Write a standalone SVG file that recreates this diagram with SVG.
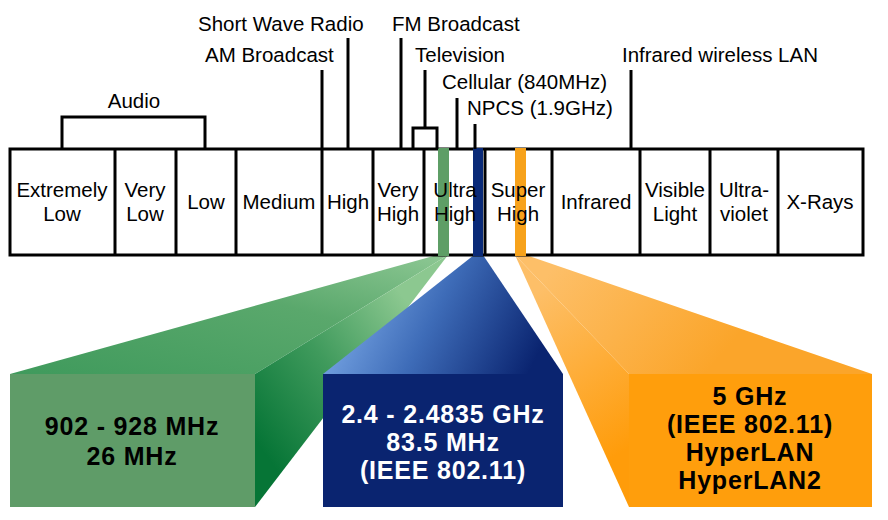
<svg xmlns="http://www.w3.org/2000/svg" width="888" height="520" viewBox="0 0 888 520">
<defs>
<style>
.lbl{font-family:"Liberation Sans",Arial,sans-serif;font-size:20.5px;fill:#000}
.c{text-anchor:middle}
.big{font-family:"Liberation Sans",Arial,sans-serif;font-size:25px;font-weight:bold;text-anchor:middle;letter-spacing:0.8px}
.ln{stroke:#000;stroke-width:3;fill:none}
.cell{fill:#fff;stroke:#000;stroke-width:3}
</style>
<linearGradient id="gTop" x1="0" y1="1" x2="1" y2="0">
<stop offset="0" stop-color="#3f9a5c"/>
<stop offset="0.6" stop-color="#5aa86c"/>
<stop offset="1" stop-color="#8ec894"/>
</linearGradient>
<linearGradient id="gSide" gradientUnits="userSpaceOnUse" x1="255" y1="440" x2="420" y2="320">
<stop offset="0" stop-color="#067536"/>
<stop offset="0.5" stop-color="#3f9a5c"/>
<stop offset="1" stop-color="#8cc890"/>
</linearGradient>
<linearGradient id="bTop" gradientUnits="userSpaceOnUse" x1="340" y1="300" x2="520" y2="390">
<stop offset="0" stop-color="#7aa8e6"/>
<stop offset="0.45" stop-color="#3e6cb8"/>
<stop offset="1" stop-color="#0a2470"/>
</linearGradient>
<linearGradient id="oTop" gradientUnits="userSpaceOnUse" x1="560" y1="260" x2="700" y2="380">
<stop offset="0" stop-color="#fdbf68"/>
<stop offset="1" stop-color="#fba52a"/>
</linearGradient>
<linearGradient id="oSide" gradientUnits="userSpaceOnUse" x1="540" y1="290" x2="640" y2="440">
<stop offset="0" stop-color="#fdbf68"/>
<stop offset="1" stop-color="#ff9c0a"/>
</linearGradient>
</defs>
<rect width="888" height="520" fill="#fff"/>

<g id="band-900">
<polygon points="10,374 437,255 448,255 255,374" fill="url(#gTop)"/>
<polygon points="255,374 448,255 255,507" fill="url(#gSide)"/>
<rect x="10" y="374" width="245" height="133" fill="#5f9c68"/>
<text class="big" x="132" y="435" fill="#000">902 - 928 MHz</text>
<text class="big" x="132" y="465" fill="#000">26 MHz</text>
</g>

<g id="band-2400">
<polygon points="323,374 474,255 483,255 563,374 563,507 323,507" fill="url(#bTop)"/>
<rect x="323" y="374" width="240" height="133" fill="#0a2470"/>
<text class="big" x="443" y="423" fill="#fff">2.4 - 2.4835 GHz</text>
<text class="big" x="443" y="451" fill="#fff">83.5 MHz</text>
<text class="big" x="443" y="479" fill="#fff">(IEEE 802.11)</text>
</g>

<g id="band-5000">
<polygon points="515,255 526,255 872,374 629,374" fill="url(#oTop)"/>
<polygon points="515,255 629,374 629,507" fill="url(#oSide)"/>
<rect x="629" y="374" width="243" height="133" fill="#ff9e0c"/>
<text class="big" x="750" y="405" fill="#000">5 GHz</text>
<text class="big" x="750" y="433" fill="#000">(IEEE 802.11)</text>
<text class="big" x="750" y="461" fill="#000">HyperLAN</text>
<text class="big" x="750" y="489" fill="#000">HyperLAN2</text>
</g>

<g id="spectrum">
<rect class="cell" x="10" y="149" width="853" height="106"/>
<path class="ln" d="M115,149V255M176,149V255M236,149V255M322,149V255M373,149V255M424,149V255M485,149V255M552,149V255M640,149V255M710,149V255M778,149V255"/>
<rect x="438" y="148" width="11" height="108" fill="#5e9e66"/>
<rect x="473" y="148" width="10" height="108" fill="#0a2a78"/>
<rect x="515" y="148" width="11" height="108" fill="#f7a21b"/>
<text class="lbl c" x="62" y="197">Extremely</text><text class="lbl c" x="62" y="221">Low</text>
<text class="lbl c" x="145" y="197">Very</text><text class="lbl c" x="145" y="221">Low</text>
<text class="lbl c" x="206" y="209">Low</text>
<text class="lbl c" x="279" y="209">Medium</text>
<text class="lbl c" x="348" y="209">High</text>
<text class="lbl c" x="398" y="197">Very</text><text class="lbl c" x="398" y="221">High</text>
<text class="lbl c" x="455" y="197">Ultra</text><text class="lbl c" x="455" y="221">High</text>
<text class="lbl c" x="518" y="197">Super</text><text class="lbl c" x="518" y="221">High</text>
<text class="lbl c" x="596" y="209">Infrared</text>
<text class="lbl c" x="675" y="197">Visible</text><text class="lbl c" x="675" y="221">Light</text>
<text class="lbl c" x="744" y="197">Ultra-</text><text class="lbl c" x="744" y="221">violet</text>
<text class="lbl c" x="820" y="209">X-Rays</text>
</g>

<g id="connectors">
<path class="ln" d="M62,149V117H205V149"/>
<path class="ln" d="M322,149V70"/>
<path class="ln" d="M348,149V38"/>
<path class="ln" d="M401,149V38"/>
<path class="ln" d="M413,149V128H437V149M425,128V70"/>
<path class="ln" d="M457,149V98"/>
<path class="ln" d="M475,149V124"/>
<path class="ln" d="M631,149V70"/>
</g>

<g id="labels">
<text class="lbl c" x="134" y="108">Audio</text>
<text class="lbl" x="198" y="31">Short Wave Radio</text>
<text class="lbl" x="205" y="62">AM Broadcast</text>
<text class="lbl" x="392" y="31">FM Broadcast</text>
<text class="lbl" x="415" y="62">Television</text>
<text class="lbl" x="442" y="89">Cellular (840MHz)</text>
<text class="lbl" x="467" y="115">NPCS (1.9GHz)</text>
<text class="lbl" x="622" y="62">Infrared wireless LAN</text>
</g>
</svg>
